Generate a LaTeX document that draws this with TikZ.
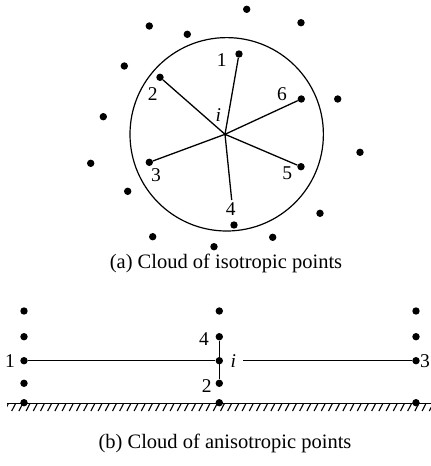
\documentclass[tikz,border=0pt]{standalone}
\usepackage{fontspec}
\setmainfont{Liberation Serif}
\begin{document}
\begin{tikzpicture}[x=1pt,y=-1pt,
  dot/.style={circle,fill=black,inner sep=0pt,minimum size=7.4pt},
  lab/.style={inner sep=0pt,font=\fontsize{19.5}{22}\selectfont},
  captxt/.style={inner sep=0pt,anchor=base,font=\fontsize{20.5}{24}\selectfont},
  conn/.style={line width=1.3pt},
  ring/.style={line width=1.2pt}]
\useasboundingbox (0,0) rectangle (431,466);
% ---------- (a) ----------
\node[draw,circle,ring,minimum size=193.4pt,inner sep=0pt] (circ) at (226.7,134.3) {};
\coordinate (c) at (225,134.3);
\foreach \n/\x/\y in {a/246.7/9.3, b/301/22.7, c/149.3/26, d/187.3/34.3, e/124.3/66,
  f/337.7/99, g/103.3/116.7, h/360/152.3, k/90.7/163.3, l/127.7/191.3,
  m/320/213.3, n/152.7/236.7, o/272.7/237.3, p/214/246.7}
  \node[dot] (out\n) at (\x,\y) {};
\node[dot] (p1) at (239,54) {};
\node[dot] (p2) at (160,77.3) {};
\node[dot] (p3) at (149.3,162.3) {};
\node[dot] (p4) at (234,225) {};
\node[dot] (p5) at (301,166.7) {};
\node[dot] (p6) at (301.3,99) {};
\coordinate (e4) at (231.7,200);
\draw[conn] (c) -- (p1);
\draw[conn] (c) -- (p2);
\draw[conn] (c) -- (p3);
\draw[conn] (c) -- (e4);
\draw[conn] (c) -- (p5);
\draw[conn] (c) -- (p6);
\node[lab] (l1) at (221.7,60) {1};
\node[lab] (l2) at (152.7,94.3) {2};
\node[lab] (l6) at (282,94.3) {6};
\node[lab] (li) at (218.3,115) {\itshape i};
\node[lab] (l3) at (156,175) {3};
\node[lab] (l5) at (287.3,173.3) {5};
\node[lab] (l4) at (230.7,209.3) {4};
\node[captxt] (capa) at (226,268.3) {(a) Cloud of isotropic points};
% ---------- (b) ----------
\foreach \n/\y in {1/311, 2/336.7, 3/360.7, 4/383.3, 5/402.7}
  \node[dot] (L\n) at (24,\y) {};
\foreach \n/\y in {1/311, 2/336.7, 3/360.7, 4/383.3, 5/402.7}
  \node[dot] (M\n) at (219.3,\y) {};
\foreach \n/\y in {1/311, 2/336.7, 3/360.7, 5/402.7}
  \node[dot] (R\n) at (416,\y) {};
\draw[line width=1.4pt] (7,403.3) -- (431,403.3);
\begin{scope}
\clip (7,403.3) rectangle (431,412);
\foreach \x in {8,15.2,...,440} \draw[line width=1.1pt] (\x-3.5,411) -- (\x+0.5,403.3);
\end{scope}
\draw[conn] (L3) -- (M3);
\draw[conn] (M2) -- (M4);
\coordinate (rs) at (243.3,360.7);
\draw[conn] (rs) -- (R3);
\node[lab] (b1) at (10,361) {1};
\node[lab] (b4) at (204,339) {4};
\node[lab] (b2) at (206.7,385.7) {2};
\node[lab] (bi) at (233.3,361) {\itshape i};
\node[lab] (b3) at (425,361.5) {3};
\node[captxt] (capb) at (225,448.3) {(b) Cloud of anisotropic points};
\end{tikzpicture}
\end{document}
